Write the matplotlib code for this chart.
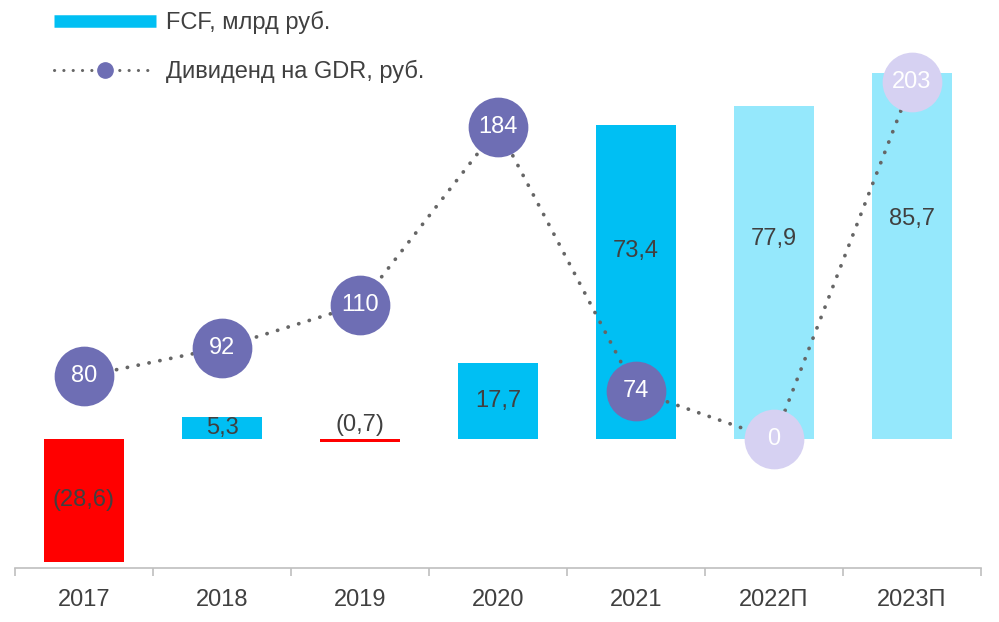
import matplotlib.pyplot as plt
from matplotlib.lines import Line2D

plt.rcParams['font.family'] = ['Liberation Sans', 'DejaVu Sans']

years = ["2017", "2018", "2019", "2020", "2021", "2022П", "2023П"]
fcf = [-28.6, 5.3, -0.7, 17.7, 73.4, 77.9, 85.7]
dividend = [80, 92, 110, 184, 74, 0, 203]
forecast = [False, False, False, False, False, True, True]

RED = "#FF0000"
CYAN = "#00BFF3"
LIGHT_CYAN = "#95E8FC"
PURPLE = "#6E6EB4"
LAVENDER = "#D6D1F2"
TEXT = "#404040"
DOTS = "#666666"
FS = 17


def fmt(v):
    s = f"{abs(v):.1f}".replace(".", ",")
    return f"({s})" if v < 0 else s


def make_graph():
    fig = plt.figure(figsize=(9.99, 6.22), dpi=100)
    ax = fig.add_axes([15 / 999, 54 / 622, 966 / 999, 528 / 622])
    x = list(range(len(years)))

    colors = [RED if v < 0 else (LIGHT_CYAN if f else CYAN) for v, f in zip(fcf, forecast)]
    ax.bar(x, fcf, width=0.58, color=colors, zorder=2)
    ax.set_xlim(-0.5, len(years) - 0.5)
    ax.set_ylim(-30.1, 93.3)

    for xi, v in zip(x, fcf):
        if abs(v) < 2:
            ax.annotate(fmt(v), (xi, 0), xytext=(0, 2), textcoords="offset points",
                        ha="center", va="bottom", fontsize=FS, color=TEXT, zorder=3)
        else:
            yl = v * 0.6 if v > 50 else v / 2
            ax.text(xi, yl, fmt(v), ha="center", va="center", fontsize=FS,
                    color=TEXT, zorder=3)

    for s in ["left", "right", "top"]:
        ax.spines[s].set_visible(False)
    ax.spines["bottom"].set_position(("data", -30.1))
    ax.spines["bottom"].set_color("#BFBFBF")
    ax.spines["bottom"].set_linewidth(1.2)
    ax.set_yticks([])
    ax.set_xticks(x)
    ax.set_xticklabels(years, fontsize=FS, color=TEXT)
    ax.tick_params(axis="x", which="major", length=0, pad=15)
    ax.set_xticks([i - 0.5 for i in range(len(years) + 1)], minor=True)
    ax.tick_params(axis="x", which="minor", length=6, width=1.2, color="#BFBFBF")

    # dividend on a secondary scale; the zero point sits on the FCF baseline
    ax2 = ax.twinx()
    ax2.set_ylim(0, 220.5)
    ax2.axis("off")
    base = ax2.transData.inverted().transform(ax.transData.transform((0, 0)))[1]
    ypos = [d if d > 0 else base for d in dividend]

    ax2.plot(x, ypos, color=DOTS, lw=2.7, linestyle=(0, (0.05, 2.9)),
             dash_capstyle="round", zorder=3)
    for xi, yi, d, f in zip(x, ypos, dividend, forecast):
        ax2.plot(xi, yi, "o", ms=43, color=LAVENDER if f else PURPLE,
                 mec="none", zorder=4)
        ax2.text(xi, yi, str(d), ha="center", va="center", fontsize=FS,
                 color="white", zorder=5)

    handles = [
        Line2D([], [], color=CYAN, lw=9, solid_capstyle="butt"),
        Line2D([], [], color=DOTS, lw=2.2, linestyle=(0, (0.05, 3.0)),
               dash_capstyle="round", marker="o", ms=11, mfc=PURPLE, mec=PURPLE),
    ]
    fig.legend(handles, ["FCF, млрд руб.", "Дивиденд на GDR, руб."],
               loc="upper left", bbox_to_anchor=(33 / 999, 1.016), frameon=False,
               fontsize=FS, handlelength=4.3, handletextpad=0.42,
               labelspacing=1.08, numpoints=1, labelcolor=TEXT)

    fig.savefig("out.png", dpi=100)


if __name__ == "__main__":
    make_graph()
